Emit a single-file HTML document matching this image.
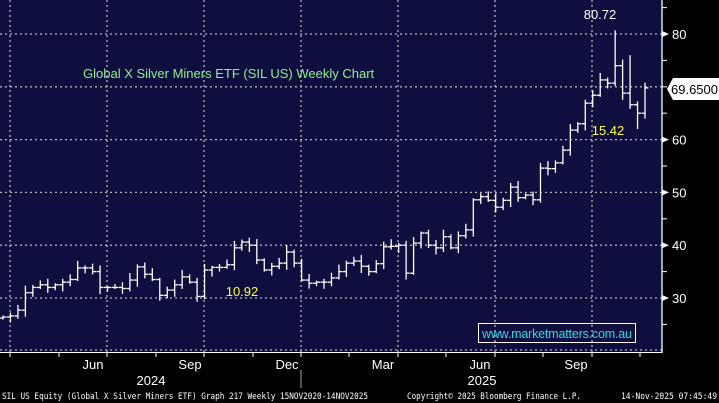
<!DOCTYPE html>
<html><head><meta charset="utf-8"><style>
html,body{margin:0;padding:0;background:#000;}
svg{display:block;font-family:"Liberation Sans",sans-serif;}
</style></head><body>
<svg id="c" width="719" height="403" xmlns="http://www.w3.org/2000/svg">
<rect x="0" y="0" width="719" height="403" fill="#000"/>
<rect x="0" y="0" width="662" height="352" fill="#0f0f3f"/>
<g id="grid" stroke="#b4b4b4" stroke-width="1.3" stroke-dasharray="2,3"></g>
<g id="bars" stroke="#fff" stroke-width="1.3" fill="none"></g>
<line x1="662" y1="0" x2="662" y2="353" stroke="#fff" stroke-width="1.3"/>
<line x1="0" y1="352.5" x2="662" y2="352.5" stroke="#fff" stroke-width="1"/>
<g id="axis" fill="#fff" font-size="13"></g>
<text x="83" y="78" fill="#8ef08e" font-size="13">Global X Silver Miners ETF (SIL US) Weekly Chart</text>
<text x="600" y="19" fill="#fff" font-size="13" text-anchor="middle">80.72</text>
<text x="608" y="135" fill="#ffff33" font-size="13" text-anchor="middle">15.42</text>
<text x="242" y="296" fill="#ffff33" font-size="13" text-anchor="middle">10.92</text>
<polygon points="667,89 673,78 719,78 719,100 673,100" fill="#fff"/>
<text x="671" y="94" fill="#000" font-size="13">69.6500</text>
<rect x="478.5" y="323.5" width="157" height="19" fill="none" stroke="#fff" stroke-width="1"/>
<text x="557" y="338" fill="#2fd8e8" font-size="12.5" text-anchor="middle" textLength="150">www.marketmatters.com.au</text>
<g fill="#fff" font-size="13" text-anchor="middle">
<text x="93" y="369">Jun</text><text x="190" y="369">Sep</text><text x="287" y="369">Dec</text>
<text x="383" y="369">Mar</text><text x="480" y="369">Jun</text><text x="576" y="369">Sep</text>
<text x="151" y="385">2024</text><text x="482" y="385">2025</text>
</g>
<line x1="301" y1="370" x2="301" y2="388" stroke="#aaa"/>
<g fill="#fff" font-size="9" font-family="'DejaVu Sans Mono','Liberation Mono',monospace">
<text x="2" y="399" textLength="366" lengthAdjust="spacingAndGlyphs">SIL US Equity (Global X Silver Miners ETF) Graph 217 Weekly 15NOV2020-14NOV2025</text>
<text x="407" y="399" textLength="174" lengthAdjust="spacingAndGlyphs">Copyright© 2025 Bloomberg Finance L.P.</text>
<text x="621" y="399" textLength="96" lengthAdjust="spacingAndGlyphs">14-Nov-2025 07:45:49</text>
</g>
</svg>
<script>
var NS="http://www.w3.org/2000/svg";
function Y(v){return 34+(80-v)*5.28;}
function el(p,t,a){var e=document.createElementNS(NS,t);for(var k in a)e.setAttribute(k,a[k]);p.appendChild(e);return e;}
var g=document.getElementById('grid');
[30,40,50,60,70,80].forEach(function(v){el(g,'line',{x1:0,x2:662,y1:Y(v),y2:Y(v)});});
el(g,'line',{x1:0,x2:662,y1:350,y2:350});
[10,107,204,301,398,495,592].forEach(function(x){el(g,'line',{x1:x,x2:x,y1:0,y2:352});});
var ax=document.getElementById('axis');
[30,40,50,60,80].forEach(function(v){var t=el(ax,'text',{x:672,y:Y(v)+5});t.textContent=v;
el(ax,'polygon',{points:"662,"+(Y(v)-3)+" 669,"+Y(v)+" 662,"+(Y(v)+3)});});
for(var v=25;v<=85;v+=5){el(ax,'line',{x1:662,x2:667,y1:Y(v),y2:Y(v),stroke:'#fff'});}
[107,204,301,398,495,592,10,59,156,253,349,446,543,640].forEach(function(x){el(ax,'line',{x1:x,x2:x,y1:352,y2:357,stroke:'#fff'});});
var c=[26.4,26.6,27.7,31,32,32.5,32,32.5,33,33.5,35.7,35.7,35,32,32,32,31.8,33.4,35.9,34.5,33.5,30.5,31.5,32.5,34,33,30.3,35.3,35.8,35.8,36.3,39.5,40.6,40,37.2,35.3,36,36.6,38.7,36.6,33.4,32.8,33,33,33.8,35,36.6,37,36,35,36.5,39.7,39.8,40,34.7,40.4,42.3,40,39.5,41.6,39.5,41.8,42.9,48.6,49.2,48.5,47.2,48.5,51,49,49.5,48.6,54.6,54.5,55.6,58,61.8,63,66.9,68.4,71.3,70.7,74,68.8,66.6,65,69.8];
var b=document.getElementById('bars'),n=c.length,st=(645-3)/(n-1);
for(var i=0;i<n;i++){var x=3+i*st,o=i?c[i-1]:26.2,cl=c[i];
var h=Math.max(o,cl)+0.3+((i*37)%7)/7*1.2,l=Math.min(o,cl)-0.3-((i*53)%5)/5*1.2;
if(i==82)h=80.7;if(i==84){h=76;}if(i==85)l=62;if(i==54)l=33.5;
el(b,'line',{x1:x,x2:x,y1:Y(h),y2:Y(l)});
el(b,'line',{x1:x-3.5,x2:x,y1:Y(o),y2:Y(o)});
el(b,'line',{x1:x,x2:x+3.5,y1:Y(cl),y2:Y(cl)});}
</script>
</body></html>
